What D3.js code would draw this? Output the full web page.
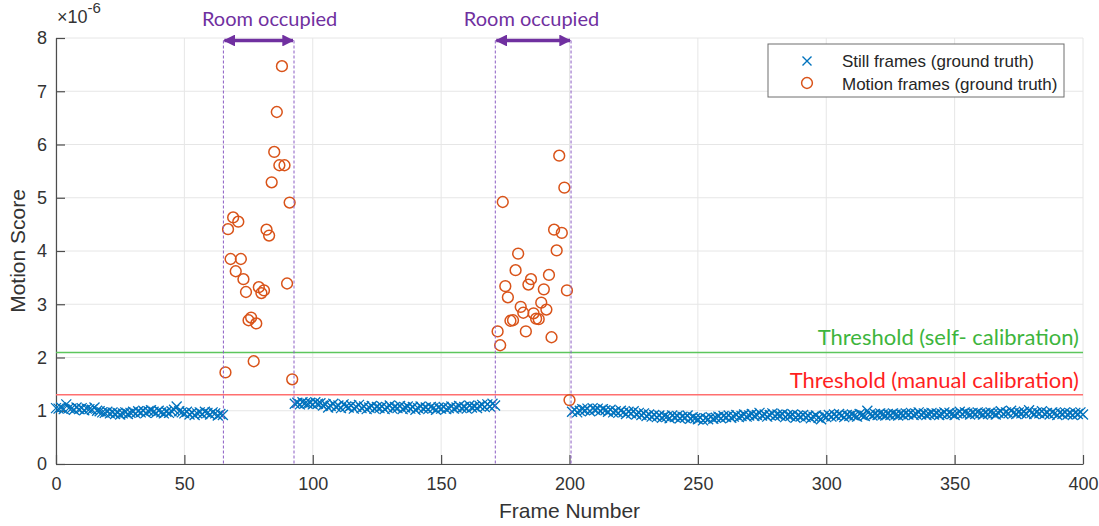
<!DOCTYPE html>
<html>
<head>
<meta charset="utf-8">
<script src="https://cdn.jsdelivr.net/npm/d3@7"></script>
<style>
  body { margin: 0; background: #fff; }
  svg { display: block; }
</style>
</head>
<body>
<svg id="chart" width="1099" height="526"></svg>
<script>
// Motion scores are stored in units of 1e-6 (the axis shows the x10^-6 multiplier)

// still frames, ground truth (frames 0..65)
const stillStart1 = 0;
const stillScores1 = [
  1.05,1.04,1.06,1.03,1.12,1.05,1.04,1.02,1.06,1.03,
  1.05,1.01,1.04,1.03,1.02,1.06,1.00,0.99,0.97,0.96,
  0.98,0.95,0.97,0.94,0.96,0.93,0.95,0.97,0.94,0.96,
  0.98,0.95,0.99,0.97,1.00,0.96,0.99,1.01,0.98,0.96,
  1.00,0.97,0.95,0.98,0.96,0.99,1.02,1.08,0.99,0.97,
  0.95,0.98,0.93,0.96,0.92,0.95,0.97,0.94,0.98,0.96,
  0.93,0.97,0.95,0.91,0.94,0.92
];

// still frames (frames 93..171)
const stillStart2 = 93;
const stillScores2 = [
  1.13,1.15,1.12,1.16,1.14,1.13,1.15,1.12,1.16,1.13,
  1.14,1.10,1.12,1.06,1.09,1.13,1.07,1.10,1.05,1.12,
  1.08,1.06,1.10,1.04,1.07,1.11,1.05,1.08,1.03,1.06,
  1.09,1.04,1.07,1.05,1.08,1.03,1.06,1.10,1.04,1.07,
  1.05,1.09,1.03,1.06,1.08,1.04,1.07,1.02,1.05,1.08,
  1.04,1.06,1.03,1.07,1.05,1.02,1.06,1.04,1.07,1.03,
  1.05,1.08,1.04,1.06,1.09,1.05,1.07,1.04,1.10,1.06,
  1.08,1.05,1.09,1.11,1.07,1.12,1.08,1.13,1.10
];

// still frames (frames 201..400)
const stillStart3 = 201;
const stillScores3 = [
  0.98,1.02,0.97,1.00,1.03,1.01,1.04,0.99,1.05,1.02,
  1.04,1.00,1.03,1.01,0.98,1.02,0.97,0.99,0.96,1.00,
  0.97,0.94,0.98,0.95,0.99,0.93,0.96,0.92,0.95,0.90,
  0.93,0.89,0.92,0.88,0.91,0.87,0.90,0.89,0.86,0.91,
  0.88,0.90,0.86,0.89,0.87,0.91,0.85,0.88,0.86,0.84,
  0.87,0.82,0.86,0.84,0.88,0.85,0.87,0.89,0.86,0.90,
  0.88,0.91,0.87,0.89,0.92,0.88,0.90,0.93,0.89,0.91,
  0.94,0.90,0.92,0.96,0.91,0.93,0.89,0.92,0.95,0.90,
  0.93,0.91,0.94,0.88,0.92,0.90,0.93,0.87,0.91,0.89,
  0.92,0.88,0.90,0.86,0.89,0.91,0.87,0.84,0.90,0.88,
  0.92,0.89,0.93,0.90,0.94,0.91,0.88,0.92,0.90,0.93,
  0.91,0.89,0.94,0.92,0.90,1.00,0.93,0.91,0.94,0.92,
  0.95,0.93,0.91,0.94,0.92,0.95,0.93,0.91,0.94,0.92,
  0.95,0.93,0.96,0.92,0.94,0.97,0.93,0.95,0.92,0.94,
  0.96,0.93,0.95,0.92,0.94,0.97,0.93,0.96,0.94,0.92,
  0.95,0.98,0.94,0.97,0.95,0.93,0.96,0.94,0.97,0.95,
  0.93,0.96,0.94,0.97,0.95,0.93,0.96,0.99,0.94,0.97,
  0.95,1.00,0.96,0.94,0.97,0.95,0.98,0.94,1.01,0.96,
  0.94,0.97,0.95,0.99,0.94,0.96,0.93,0.97,0.95,0.92,
  0.96,0.94,0.97,0.93,0.95,0.92,0.96,0.94,0.97,0.93
];

// motion frames, ground truth (frames 66..92)
const motionStart1 = 66;
const motionScores1 = [
  1.72,4.41,3.85,4.63,3.62,4.55,3.85,3.47,3.23,2.70,
  2.75,1.93,2.64,3.32,3.21,3.26,4.40,4.29,5.29,5.86,
  6.61,5.61,7.47,5.61,3.39,4.91,1.59
];

// motion frames (frames 172..200)
const motionStart2 = 172;
const motionScores2 = [
  2.49,2.23,4.92,3.34,3.13,2.69,2.70,3.64,3.95,2.95,
  2.84,2.49,3.37,3.47,2.83,2.73,2.72,3.03,3.28,2.90,
  3.55,2.38,4.40,4.01,5.79,4.34,5.19,3.26,1.20
];

// occupied intervals (frame numbers of the dashed borders) and label positions
const occStarts = [65.2, 171.1];
const occEnds = [92.7, 200.6];
const occLabelX = [83.2, 185.2];
const occLabel = "Room occupied";

// thresholds
const thrValues = [2.095, 1.30];
const thrLabels = ["Threshold (self- calibration)", "Threshold (manual calibration)"];
const thrColors = ["#5cc65c", "#ff6f6f"];
const thrTextColors = ["#3db53d", "#ff1f1f"];

const xTicks = [0, 50, 100, 150, 200, 250, 300, 350, 400];
const yTicks = [0, 1, 2, 3, 4, 5, 6, 7, 8];

const legendLabels = ["Still frames (ground truth)", "Motion frames (ground truth)"];

//------------------------------------------------------------------------------

const blue = "#0072BD", orange = "#D95319", purple = "#7030A0";
const axisFont = "'Liberation Sans', Arial, sans-serif";
const noteFont = "Lato, 'Open Sans', sans-serif";

const svg = d3.select("#chart");
const plotLeft = 56, plotRight = 1083, plotTop = 38, plotBottom = 464;

const x = d3.scaleLinear().domain([0, 400]).range([plotLeft, plotRight]);
const y = d3.scaleLinear().domain([0, 8]).range([plotBottom, plotTop]);

const toPoints = (start, arr) => arr.map((v, i) => ({frame: start + i, score: v}));
const stillData = [].concat(
  toPoints(stillStart1, stillScores1),
  toPoints(stillStart2, stillScores2),
  toPoints(stillStart3, stillScores3));
const motionData = [].concat(
  toPoints(motionStart1, motionScores1),
  toPoints(motionStart2, motionScores2));

//Grid
const grid = svg.append("g").attr("stroke", "#e6e6e6").attr("stroke-width", 1);
grid.selectAll(".gx").data(xTicks).enter().append("line")
  .attr("x1", d => x(d)).attr("x2", d => x(d))
  .attr("y1", plotTop).attr("y2", plotBottom);
grid.selectAll(".gy").data(yTicks).enter().append("line")
  .attr("x1", plotLeft).attr("x2", plotRight)
  .attr("y1", d => y(d)).attr("y2", d => y(d));

//Axes (MATLAB style: ticks inward, no box)
const xAxis = svg.append("g").attr("transform", `translate(0,${plotBottom})`)
  .call(d3.axisBottom(x).tickValues(xTicks).tickSizeInner(-9).tickSizeOuter(0).tickPadding(13));
const yAxis = svg.append("g").attr("transform", `translate(${plotLeft},0)`)
  .call(d3.axisLeft(y).tickValues(yTicks).tickSizeInner(-9).tickSizeOuter(0).tickPadding(9));
[xAxis, yAxis].forEach(a => {
  a.select(".domain").attr("stroke", "#4d4d4d").attr("stroke-width", 1.2);
  a.selectAll(".tick line").attr("stroke", "#4d4d4d").attr("stroke-width", 1.2);
  a.selectAll(".tick text").attr("fill", "#333")
    .style("font-family", axisFont).style("font-size", "18px");
});

//Exponent label
const expo = svg.append("text").attr("x", 57).attr("y", 23)
  .attr("fill", "#333").style("font-family", axisFont).style("font-size", "18px");
expo.append("tspan").text("\u00d710");
expo.append("tspan").attr("dy", -10).style("font-size", "15px").text("-6");

//Axis titles
svg.append("text").attr("x", (plotLeft + plotRight) / 2).attr("y", 518)
  .attr("text-anchor", "middle").attr("fill", "#333")
  .style("font-family", axisFont).style("font-size", "21px").text("Frame Number");
svg.append("text").attr("transform", `translate(25,${(plotTop + plotBottom) / 2}) rotate(-90)`)
  .attr("text-anchor", "middle").attr("fill", "#333")
  .style("font-family", axisFont).style("font-size", "21px").text("Motion Score");

//Threshold lines
thrValues.forEach((v, i) => {
  svg.append("line").attr("x1", plotLeft).attr("x2", plotRight)
    .attr("y1", y(v)).attr("y2", y(v))
    .attr("stroke", thrColors[i]).attr("stroke-width", 1.5);
  svg.append("text").attr("x", plotRight - 4).attr("y", y(v) - 7)
    .attr("text-anchor", "end").attr("fill", thrTextColors[i])
    .style("font-family", noteFont).style("font-size", "22px").text(thrLabels[i]);
});

//Still frames (crosses)
const cs = 5;
const crossPath = (px, py, s) =>
  `M${px - s},${py - s}L${px + s},${py + s}M${px - s},${py + s}L${px + s},${py - s}`;
svg.append("g").selectAll("path").data(stillData).enter().append("path")
  .attr("d", d => crossPath(x(d.frame), y(d.score), cs))
  .attr("stroke", blue).attr("stroke-width", 1.3).attr("fill", "none");

//Motion frames (circles)
svg.append("g").selectAll("circle").data(motionData).enter().append("circle")
  .attr("cx", d => x(d.frame)).attr("cy", d => y(d.score)).attr("r", 5.4)
  .attr("fill", "none").attr("stroke", orange).attr("stroke-width", 1.5);

//Occupied intervals: dashed borders, double arrow and label
const defs = svg.append("defs");
["start", "end"].forEach(k => {
  defs.append("marker").attr("id", "ah-" + k)
    .attr("viewBox", "0 0 10 10").attr("refX", 9).attr("refY", 5)
    .attr("markerWidth", 3.4).attr("markerHeight", 3.4).attr("orient", "auto-start-reverse")
    .attr("markerUnits", "strokeWidth")
    .append("path").attr("d", "M0,0L10,5L0,10z").attr("fill", purple);
});
const arrowY = 40.5;
occStarts.forEach((s, i) => {
  [s, occEnds[i]].forEach(f => {
    svg.append("line").attr("x1", x(f)).attr("x2", x(f))
      .attr("y1", arrowY).attr("y2", plotBottom)
      .attr("stroke", "#8b5cc4").attr("stroke-width", 1).attr("stroke-dasharray", "3,2");
  });
  svg.append("line").attr("x1", x(s) + 1).attr("x2", x(occEnds[i]) - 1)
    .attr("y1", arrowY).attr("y2", arrowY)
    .attr("stroke", purple).attr("stroke-width", 3.5)
    .attr("marker-start", "url(#ah-start)").attr("marker-end", "url(#ah-end)");
  svg.append("text").attr("x", x(occLabelX[i])).attr("y", 26)
    .attr("text-anchor", "middle").attr("fill", purple)
    .style("font-family", noteFont).style("font-size", "20px").text(occLabel);
});

//Legend
const lg = svg.append("g").attr("transform", "translate(768,44)");
lg.append("rect").attr("width", 296).attr("height", 53)
  .attr("fill", "#fff").attr("stroke", "#6e6e6e").attr("stroke-width", 1);
lg.append("path").attr("d", crossPath(39, 17, 4.5))
  .attr("stroke", blue).attr("stroke-width", 1.4);
lg.append("circle").attr("cx", 39).attr("cy", 39).attr("r", 5.4)
  .attr("fill", "none").attr("stroke", orange).attr("stroke-width", 1.5);
legendLabels.forEach((t, i) => {
  lg.append("text").attr("x", 74).attr("y", 23 + i * 22.5).attr("fill", "#262626")
    .style("font-family", axisFont).style("font-size", "17px").text(t);
});
</script>
</body>
</html>
